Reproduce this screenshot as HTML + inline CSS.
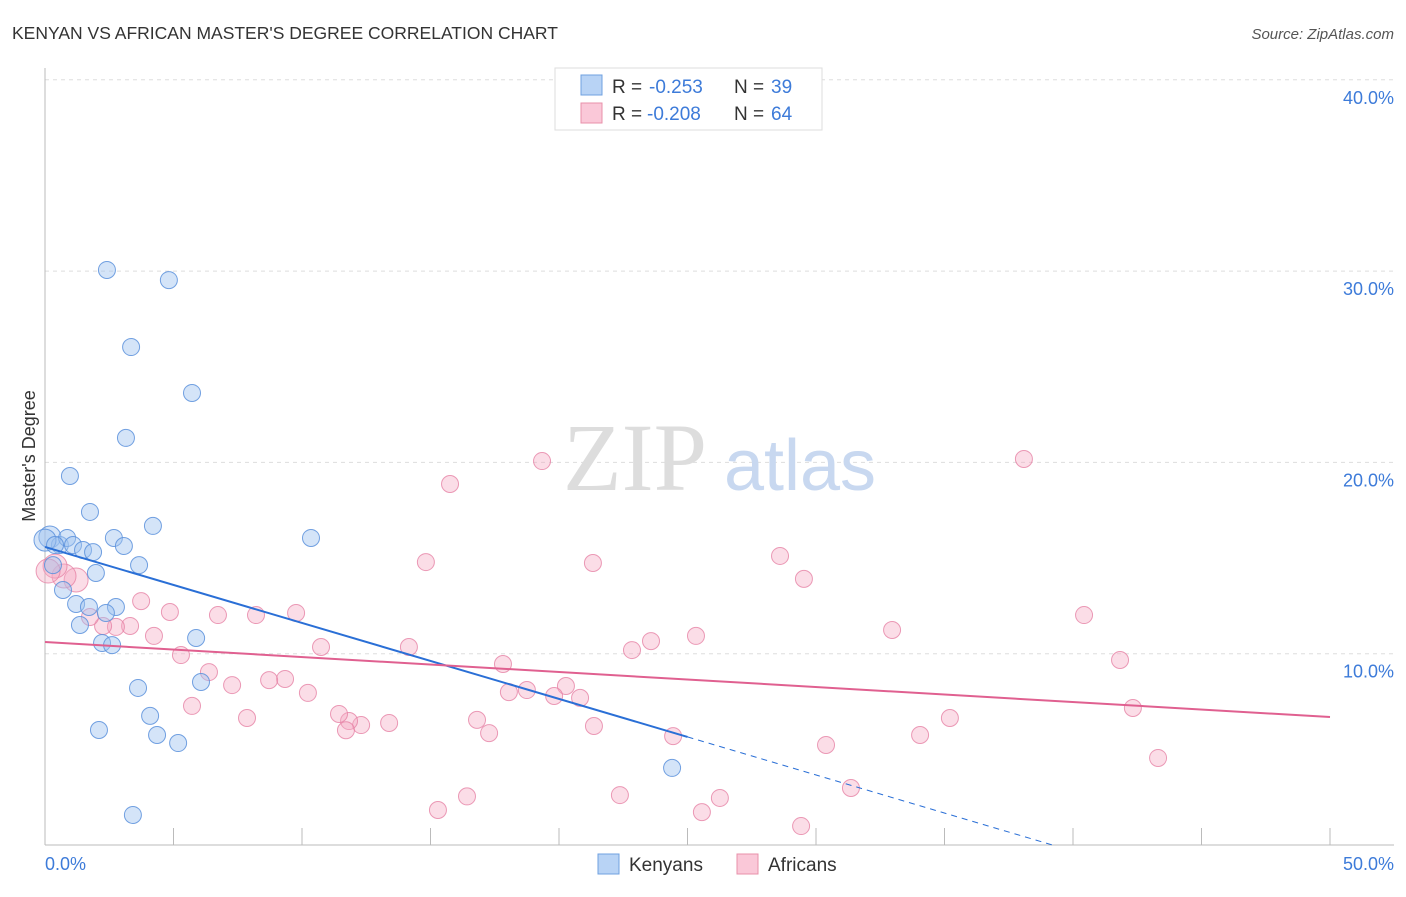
<!DOCTYPE html>
<html><head><meta charset="utf-8"><style>
body{margin:0;background:#fff;font-family:"Liberation Sans",sans-serif;}
</style></head><body>
<svg width="1406" height="892" xmlns="http://www.w3.org/2000/svg">
<text x="12" y="39" font-size="17.5" fill="#333">KENYAN VS AFRICAN MASTER'S DEGREE CORRELATION CHART</text>
<text x="1394" y="39" font-size="15" fill="#555" font-style="italic" text-anchor="end">Source: ZipAtlas.com</text>
<g id="grid"></g>
<text x="635" y="490" font-size="96" fill="#ddd" font-family="Liberation Serif" text-anchor="middle">ZIP</text>
<text x="800" y="490" font-size="72" fill="#c8d8f0" text-anchor="middle">atlas</text>
<g id="pts"></g>
<g id="lines"></g>
<text x="35" y="456" font-size="18" fill="#333" text-anchor="middle" transform="rotate(-90 35 456)">Master's Degree</text>
<g>
<rect x="555" y="68" width="267" height="62" fill="#fff" stroke="#ddd"/>
<rect x="581" y="75" width="21" height="20" fill="#b8d3f5" stroke="#6fa0e0"/>
<rect x="581" y="103" width="21" height="20" fill="#fac8d8" stroke="#e890aa"/>
<text x="612" y="93" font-size="19" fill="#333">R =</text>
<text x="649" y="93" font-size="19" fill="#3d7bd9">-0.253</text>
<text x="734" y="93" font-size="19" fill="#333">N =</text>
<text x="771" y="93" font-size="19" fill="#3d7bd9">39</text>
<text x="612" y="120" font-size="19" fill="#333">R =</text>
<text x="647" y="120" font-size="19" fill="#3d7bd9">-0.208</text>
<text x="734" y="120" font-size="19" fill="#333">N =</text>
<text x="771" y="120" font-size="19" fill="#3d7bd9">64</text>
</g>
<g>
<rect x="598" y="854" width="21" height="20" fill="#b8d3f5" stroke="#6fa0e0"/>
<text x="629" y="871" font-size="19" fill="#333">Kenyans</text>
<rect x="737" y="854" width="21" height="20" fill="#fac8d8" stroke="#e890aa"/>
<text x="768" y="871" font-size="19" fill="#333">Africans</text>
</g>
<text x="45" y="870" font-size="18" fill="#3d7bd9">0.0%</text>
<text x="1394" y="870" font-size="18" fill="#3d7bd9" text-anchor="end">50.0%</text>
</svg>
<script>
const yTicks=[10,20,30,40];
const yTickLabels=["10.0%","20.0%","30.0%","40.0%"];
const xTicks=[0,5,10,15,20,25,30,35,40,45,50];
const kenX=[2.41,4.82,3.35,5.72,3.15,0.97,1.75,4.20,10.35,0.19,0.58,0.86,1.09,1.48,1.87,2.68,3.07,3.66,0.31,1.98,0.70,1.21,1.71,2.76,2.37,1.36,2.22,2.61,5.88,3.62,6.07,4.09,2.10,4.36,5.18,24.40,3.42,0,0.39];
const kenY=[30.06,29.53,26.03,23.63,21.28,19.29,17.41,16.68,16.05,16.10,15.68,16.05,15.68,15.42,15.31,16.05,15.63,14.63,14.63,14.22,13.33,12.60,12.44,12.44,12.13,11.50,10.56,10.45,10.82,8.21,8.52,6.75,6.01,5.75,5.33,4.03,1.57,15.94,15.68];
const afrX=[19.34,38.09,15.76,14.82,21.32,28.60,29.53,40.43,32.96,41.83,42.33,43.31,35.21,34.05,30.39,31.36,29.42,26.26,25.56,25.33,23.58,22.84,21.36,20.82,20.27,19.81,18.75,18.05,17.82,16.81,17.28,16.42,15.29,14.16,13.39,12.30,11.83,11.44,10.74,10.23,9.77,9.34,8.72,8.21,7.86,7.28,6.73,6.38,5.72,5.29,4.86,4.24,3.74,3.31,2.76,2.26,1.75,1.21,0.74,0.39,0.12,22.37,24.44,11.71];
const afrY=[20.07,20.18,18.87,14.79,14.74,15.11,13.91,12.02,11.24,9.67,7.16,4.55,6.64,5.75,5.23,2.98,0.99,2.46,1.72,10.93,10.66,10.19,6.22,7.69,8.31,7.79,8.10,7.99,9.46,6.54,5.85,2.54,1.83,10.35,6.38,6.27,6.48,6.85,10.35,7.95,12.13,8.68,8.62,12.02,6.64,8.36,12.02,9.04,7.27,9.93,12.18,10.93,12.75,11.45,11.40,11.45,11.92,13.85,14.06,14.58,14.32,2.61,5.69,6.0];
const kenTrend=[15.58,5.65,0];
const kenTrendX=[0,25,39.2];
const afrTrendX=[0,50];
const afrTrend=[10.61,6.69];
const NS="http://www.w3.org/2000/svg";
const sx=v=>45+v*25.7, sy=v=>845-v*19.13;
function mk(t,a,p){const e=document.createElementNS(NS,t);for(const k in a)e.setAttribute(k,a[k]);p.appendChild(e);return e;}
const grid=document.getElementById('grid');
yTicks.forEach((t,i)=>{
 const l=mk('line',{x1:45,x2:1394,y1:sy(t),y2:sy(t),stroke:'#ddd','stroke-dasharray':'4 4'},grid);
 
 
 const tx=mk('text',{x:1394,y:sy(t)+24,'font-size':18,fill:'#3d7bd9','text-anchor':'end'},grid);
 tx.textContent=yTickLabels[i];
 
 
});
const ax=mk('line',{x1:45,x2:45,y1:68,y2:845,stroke:'#bbb'},grid);


const bx=mk('line',{x1:45,x2:1394,y1:845,y2:845,stroke:'#bbb'},grid);


xTicks.forEach(t=>{
 const l=mk('line',{x1:sx(t),x2:sx(t),y1:828,y2:845,stroke:'#bbb'},grid);
 
 
});
const pts=document.getElementById('pts');
afrX.forEach((x,i)=>{
 const r=(x<1.5&&afrY[i]>13)?12:8.5;
 const c=mk('circle',{cx:sx(x),cy:sy(afrY[i]),r:r,fill:'rgba(245,170,195,0.4)',stroke:'rgba(230,130,165,0.8)','stroke-width':1},pts);
 
 
});
kenX.forEach((x,i)=>{
 const r=(x<0.3&&kenY[i]>15.5)?11:8.5;
 const c=mk('circle',{cx:sx(x),cy:sy(kenY[i]),r:r,fill:'rgba(160,195,240,0.45)',stroke:'rgba(90,145,220,0.85)','stroke-width':1},pts);
 
 
});
const lines=document.getElementById('lines');
const ka=mk('line',{x1:sx(kenTrendX[0]),y1:sy(kenTrend[0]),x2:sx(kenTrendX[1]),y2:sy(kenTrend[1]),stroke:'#2a6fd6','stroke-width':2},lines);


const kb=mk('line',{x1:sx(kenTrendX[1]),y1:sy(kenTrend[1]),x2:sx(kenTrendX[2]),y2:sy(kenTrend[2]),stroke:'#2a6fd6','stroke-width':1,'stroke-dasharray':'6 5'},lines);


const al=mk('line',{x1:sx(afrTrendX[0]),y1:sy(afrTrend[0]),x2:sx(afrTrendX[1]),y2:sy(afrTrend[1]),stroke:'#e06090','stroke-width':2},lines);


</script>
</body></html>
